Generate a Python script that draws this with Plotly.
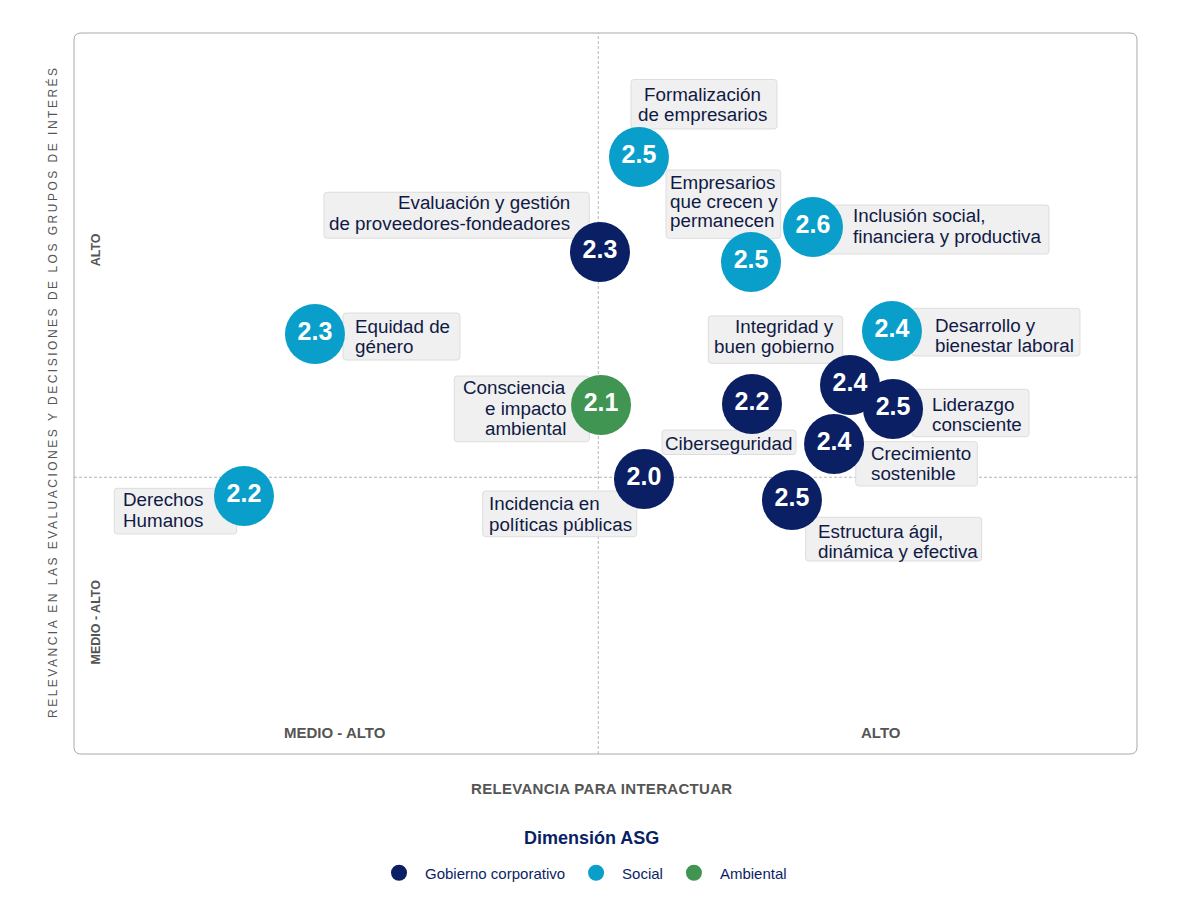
import plotly.graph_objects as go

# ---------------- data ----------------
topics = [
    "Formalización de empresarios",
    "Evaluación y gestión de proveedores-fondeadores",
    "Empresarios que crecen y permanecen",
    "Inclusión social, financiera y productiva",
    "Equidad de género",
    "Desarrollo y bienestar laboral",
    "Consciencia e impacto ambiental",
    "Ciberseguridad",
    "Integridad y buen gobierno",
    "Liderazgo consciente",
    "Crecimiento sostenible",
    "Incidencia en políticas públicas",
    "Estructura ágil, dinámica y efectiva",
    "Derechos Humanos",
]
dimension = [
    "Social", "Gobierno corporativo", "Social", "Social", "Social", "Social",
    "Ambiental", "Gobierno corporativo", "Gobierno corporativo", "Gobierno corporativo",
    "Gobierno corporativo", "Gobierno corporativo", "Gobierno corporativo", "Social",
]
score = [2.5, 2.3, 2.5, 2.6, 2.3, 2.4, 2.1, 2.2, 2.4, 2.5, 2.4, 2.0, 2.5, 2.2]
# Relevancia para interactuar (x, 0-100 scale)
rel_interactuar = [53.15, 49.48, 63.69, 69.52, 22.67, 76.95, 49.58, 63.78, 73.00, 77.05, 71.50, 53.62, 67.54, 15.99]
# Relevancia en las evaluaciones y decisiones de los grupos de interés (y, 0-100 scale)
rel_grupos = [82.80, 69.63, 68.24, 73.09, 58.25, 58.67, 48.40, 48.54, 51.18, 47.85, 43.00, 38.14, 35.23, 35.78]

threshold_x = 49.32
threshold_y = 38.38

dim_order = ["Gobierno corporativo", "Social", "Ambiental"]

label_lines = [
    ["Formalización", "de empresarios"],
    ["Evaluación y gestión", "de proveedores-fondeadores"],
    ["Empresarios", "que crecen y", "permanecen"],
    ["Inclusión social,", "financiera y productiva"],
    ["Equidad de", "género"],
    ["Desarrollo y", "bienestar laboral"],
    ["Consciencia", "e impacto", "ambiental"],
    ["Ciberseguridad"],
    ["Integridad y", "buen gobierno"],
    ["Liderazgo", "consciente"],
    ["Crecimiento", "sostenible"],
    ["Incidencia en", "políticas públicas"],
    ["Estructura ágil,", "dinámica y efectiva"],
    ["Derechos", "Humanos"],
]

# ---------------- label layout (pixel offsets from bubble centre, screen y down) ----------------
# align, text anchor dx, first baseline dy, line gap, box (dx0, dx1, dy0, dy1)
label_layout = [
    ("center", 64, -56.3, 20.0, (-8, 138, -77.5, -28)),
    ("right", -29.5, -42.7, 20.7, (-276, -10.7, -59.7, -13.7)),
    ("left", -81, -72.7, 19.0, (-85, 29.7, -92, -23.7)),
    ("left", 40, -5, 20.5, (12, 236, -22, 27)),
    ("left", 40, -0.7, 20.0, (28, 145, -21, 26)),
    ("left", 43, 1.3, 19.7, (20, 188, -22.7, 25)),
    ("right", -35.5, -10.7, 20.3, (-146.7, -11.7, -29, 36.7)),
    ("left", -87, 46, 20.0, (-90, 44, 26, 50.5)),
    ("right", -16, -51.7, 20.0, (-141.7, -7.3, -69, -21.7)),
    ("left", 39.3, 2, 20.0, (19, 136, -19.7, 27.7)),
    ("left", 36.7, 16, 20.0, (21.7, 143.3, -2.3, 42)),
    ("left", -154.7, 31, 20.7, (-161.3, -7.3, 12, 57.7)),
    ("left", 26.3, 38.3, 20.0, (13.7, 189.7, 17.3, 61)),
    ("left", -120.7, 10, 20.7, (-129.7, -7.3, -7.7, 38)),
]

# ---------------- styles ----------------
OFF = 8  # page body margin
W, H = 1181 - OFF, 911 - OFF
ML, MR, MT, MB = 74 - OFF, 44, 33 - OFF, 157
PW = W - ML - MR
PH = H - MT - MB

FONT = "Liberation Sans, Arial, sans-serif"
NAVY = "#0b1f64"
TXT = "#101a45"
GREY = "#555555"
colors = {"Gobierno corporativo": "#0b1f64", "Social": "#0a9fca", "Ambiental": "#3f9551"}
LABEL_FS = 18.8
BUBBLE = 60


def px_x(px):
    return (px - OFF - ML) / PW


def px_y(py):
    return (H + OFF - MB - py) / PH


def rrect(x0, x1, yb, yt, r):
    return (f"M{x0 + r},{yb} L{x1 - r},{yb} Q{x1},{yb} {x1},{yb + r} "
            f"L{x1},{yt - r} Q{x1},{yt} {x1 - r},{yt} L{x0 + r},{yt} "
            f"Q{x0},{yt} {x0},{yt - r} L{x0},{yb + r} Q{x0},{yb} {x0 + r},{yb} Z")


fig = go.Figure()

for dim in dim_order:
    idx = [i for i, d in enumerate(dimension) if d == dim]
    fig.add_trace(go.Scatter(
        x=[rel_interactuar[i] for i in idx],
        y=[rel_grupos[i] for i in idx],
        mode="markers+text",
        name=dim,
        text=[f"{score[i]:.1f}" for i in idx],
        hovertext=[topics[i] for i in idx],
        hoverinfo="text",
        textposition="middle center",
        textfont=dict(family=FONT, size=25, color="white", weight="bold"),
        marker=dict(size=BUBBLE, color=colors[dim], line=dict(width=0), opacity=1),
        cliponaxis=False,
    ))

shapes = []
# quadrant reference lines
shapes.append(dict(type="line", xref="x", yref="paper", x0=threshold_x, x1=threshold_x, y0=0, y1=1,
                   line=dict(color="#b5b5b5", width=1, dash="3px,2px"), layer="below"))
shapes.append(dict(type="line", xref="paper", yref="y", x0=0, x1=1, y0=threshold_y, y1=threshold_y,
                   line=dict(color="#b5b5b5", width=1, dash="3px,2px"), layer="below"))

annotations = []
for i, (align, adx, bdy, gap, box) in enumerate(label_layout):
    bx0, bx1, by0, by1 = box
    shapes.append(dict(
        type="path", xref="x", yref="y", xsizemode="pixel", ysizemode="pixel",
        xanchor=rel_interactuar[i], yanchor=rel_grupos[i],
        path=rrect(bx0, bx1, -by1, -by0, 3),
        fillcolor="#f0f0f0", line=dict(color="#dddddd", width=1), layer="below",
    ))
    for k, line in enumerate(label_lines[i]):
        base = bdy + k * gap
        annotations.append(dict(
            x=rel_interactuar[i], y=rel_grupos[i], xref="x", yref="y",
            text=line, showarrow=False, xanchor=align, yanchor="middle", align=align,
            xshift=adx, yshift=-(base - 0.3465 * LABEL_FS),
            borderpad=0, borderwidth=0,
            font=dict(family=FONT, size=LABEL_FS, color=TXT),
        ))

# rounded plot frame
shapes.append(dict(
    type="path", xref="paper", yref="paper", xsizemode="pixel", ysizemode="pixel",
    xanchor=0, yanchor=0, path=rrect(0, PW, 0, PH, 7),
    line=dict(color="#a9a9a9", width=1), fillcolor="rgba(0,0,0,0)", layer="above",
))

# quadrant category labels
quad_font = dict(family=FONT, size=15, color=GREY, weight="bold")
side_font = dict(family=FONT, size=12.5, color=GREY, weight="bold")
annotations += [
    dict(x=px_x(335), y=px_y(732), xref="paper", yref="paper", text="MEDIO - ALTO", showarrow=False,
         xanchor="center", yanchor="middle", font=quad_font),
    dict(x=px_x(881), y=px_y(732), xref="paper", yref="paper", text="ALTO", showarrow=False,
         xanchor="center", yanchor="middle", font=quad_font),
    dict(x=px_x(96), y=px_y(250.3), xref="paper", yref="paper", text="ALTO", showarrow=False,
         textangle=-90, xanchor="center", yanchor="middle", font=side_font),
    dict(x=px_x(95.5), y=px_y(622), xref="paper", yref="paper", text="MEDIO - ALTO", showarrow=False,
         textangle=-90, xanchor="center", yanchor="middle", font=side_font),
    # axis titles
    dict(x=px_x(601), y=px_y(788), xref="paper", yref="paper",
         text='<span style="letter-spacing:0.3px">RELEVANCIA PARA INTERACTUAR</span>', showarrow=False,
         xanchor="center", yanchor="middle", font=dict(family=FONT, size=15, color=GREY, weight="bold")),
    dict(x=px_x(52), y=px_y(392), xref="paper", yref="paper",
         text='<span style="letter-spacing:2.5px">RELEVANCIA EN LAS EVALUACIONES Y DECISIONES DE LOS GRUPOS DE INTERÉS</span>',
         showarrow=False, textangle=-90, xanchor="center", yanchor="middle",
         font=dict(family=FONT, size=12, color=GREY)),
    # legend title
    dict(x=px_x(591), y=px_y(838), xref="paper", yref="paper", text="Dimensión ASG", showarrow=False,
         xanchor="center", yanchor="middle", font=dict(family=FONT, size=18, color=NAVY, weight="bold")),
]

fig.update_layout(
    width=W, height=H,
    margin=dict(l=ML, r=MR, t=MT, b=MB),
    paper_bgcolor="white", plot_bgcolor="white",
    font=dict(family=FONT, color=TXT),
    xaxis=dict(range=[0, 100], showgrid=False, zeroline=False, showticklabels=False,
               showline=False, ticks="", fixedrange=True),
    yaxis=dict(range=[0, 100], showgrid=False, zeroline=False, showticklabels=False,
               showline=False, ticks="", fixedrange=True),
    shapes=shapes,
    annotations=annotations,
    showlegend=True,
    legend=dict(
        orientation="h", x=px_x(373), xanchor="left", y=px_y(873), yanchor="middle",
        font=dict(family=FONT, size=15, color=NAVY),
        itemwidth=42, bgcolor="rgba(0,0,0,0)",
    ),
)

fig.write_html("out.html")
